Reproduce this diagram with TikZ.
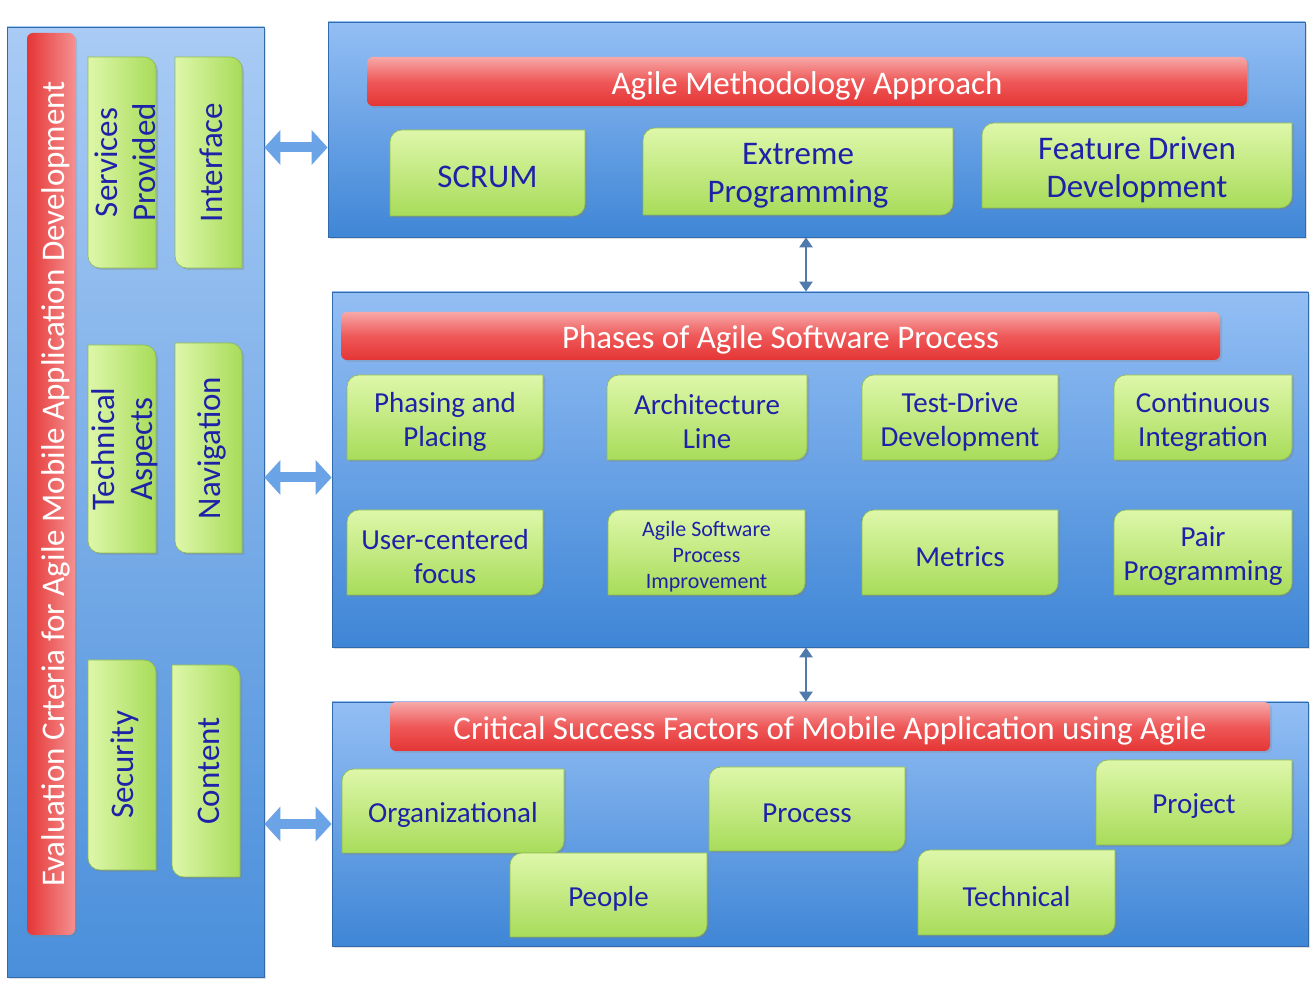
\documentclass[tikz,border=0pt]{standalone}
\usepackage{fontspec}
\setmainfont{Carlito}
\usepackage{tikz}
\usetikzlibrary{arrows.meta, shadows}

\definecolor{txtblue}{HTML}{1E22A8}
\definecolor{pantop}{HTML}{93BEF4}
\definecolor{panbot}{HTML}{3F86D6}
\definecolor{lefttop}{HTML}{A9CBF5}
\definecolor{leftbot}{HTML}{4A8FDB}
\definecolor{redtop}{HTML}{F7A8A8}
\definecolor{redmid}{HTML}{EF5858}
\definecolor{redbot}{HTML}{E53535}
\definecolor{grtop}{HTML}{DEF7AA}
\definecolor{grbot}{HTML}{A8DC5A}
\definecolor{arrowblue}{HTML}{6AA3E6}

% green box, round top left / bottom right
\newcommand{\gbox}[7][]{%
  \path[gfill] (#3,#4) -- (#3,#6-12) arc[start angle=180, end angle=90, radius=6pt]
    -- (#5,#6) -- (#5,#4+12) arc[start angle=0, end angle=-90, radius=6pt] -- cycle;
  \node[gtext, #1] (#2) at ({(#3+#5)/2},{(#4+#6)/2-4}) {#7};}
% upright green box, round top right / bottom left
\newcommand{\vgbox}[6]{%
  \path[gfill, left color=grtop, right color=grbot] (#2,#3+12) -- (#2,#5) -- (#4-12,#5)
    arc[start angle=90, end angle=0, radius=6pt] -- (#4,#3) -- (#2+12,#3)
    arc[start angle=-90, end angle=-180, radius=6pt] -- cycle;
  \node[gtext, rotate=90] (#1) at ({(#2+#4)/2+3},{(#3+#5)/2}) {#6};}

\begin{document}
\begin{tikzpicture}[x=0.5pt,y=0.5pt,
    panel/.style={rectangle, draw=panbot!80!black, line width=0.4pt, top color=pantop, bottom color=panbot,
      drop shadow={opacity=0.25, shadow xshift=1pt, shadow yshift=-1pt}},
    redbar/.style={rectangle, rounded corners=3pt, top color=redtop, bottom color=redbot, middle color=redmid,
      text=white, font=\fontsize{16.5}{19}\selectfont, inner sep=0pt, text height=14pt, text depth=1pt,
      drop shadow={opacity=0.25, shadow xshift=1pt, shadow yshift=-1pt}},
    gfill/.style={top color=grtop, bottom color=grbot, draw=grbot!85!black, line width=0.3pt,
      drop shadow={opacity=0.3, shadow xshift=1pt, shadow yshift=-1pt}},
    gtext/.style={align=center, text=txtblue, font=\fontsize{16.5}{19}\selectfont, inner sep=0pt},
    phasefont/.style={font=\fontsize{14.5}{17}\selectfont},
    tinyfont/.style={font=\fontsize{11}{13}\selectfont},
    fatarrow/.style={draw=arrowblue, line width=5pt,
      {Triangle[width=17pt,length=8pt]}-{Triangle[width=17pt,length=8pt]}},
    slimarrow/.style={draw=arrowblue!75!black, line width=1.3pt,
      {Triangle[width=6.5pt,length=5pt]}-{Triangle[width=6.5pt,length=5pt]}}]
    \useasboundingbox[fill=white] (0,0) rectangle (1310,984);

    % panels
    \node[panel, top color=lefttop, bottom color=leftbot, minimum width=128.5pt, minimum height=475pt] (left) at (135.5,482) {};
    \node[panel, minimum width=488.5pt, minimum height=107.5pt] (meth) at (816.5,854.5) {};
    \node[panel, minimum width=488pt, minimum height=177.5pt] (phase) at (820,514.5) {};
    \node[panel, minimum width=488pt, minimum height=122pt] (csf) at (820,160) {};

    % red titles
    \node[redbar, rotate=90, left color=redbot, right color=redtop!70!redmid, minimum width=451pt, minimum height=24pt]
      (eval) at (51,500) {Evaluation Crteria for Agile Mobile Application Development};
    \node[redbar, minimum width=440pt, minimum height=24.5pt] (methtitle) at (807,902.5) {Agile Methodology Approach};
    \node[redbar, minimum width=439.5pt, minimum height=24pt] (phasetitle) at (780.5,648) {Phases of Agile Software Process};
    \node[redbar, minimum width=440pt, minimum height=24.5pt] (csftitle) at (830,257.5)
      {Critical Success Factors of Mobile Application using Agile};

    % evaluation criteria
    \vgbox{svc}{88}{716}{156}{927}{Services\\Provided}
    \vgbox{intf}{175}{716}{242}{927}{Interface}
    \vgbox{tech}{88}{431}{156}{639}{Technical\\Aspects}
    \vgbox{nav}{175}{431}{242}{641}{Navigation}
    \vgbox{sec}{88}{114}{156}{324}{Security}
    \vgbox{cont}{172}{107}{240}{319}{Content}

    % methodologies
    \gbox{scrum}{390}{768}{585}{854}{SCRUM}
    \gbox{xp}{643}{769}{953}{856}{Extreme\\Programming}
    \gbox{fdd}{982}{776}{1292}{861}{Feature Driven\\Development}

    % phases
    \gbox[phasefont]{pp}{347}{524}{543}{609}{Phasing and\\Placing}
    \gbox[phasefont]{al}{607}{524}{807}{609}{Architecture\\Line}
    \gbox[phasefont]{tdd}{862}{524}{1058}{609}{Test-Drive\\Development}
    \gbox[phasefont]{ci}{1114}{524}{1292}{609}{Continuous\\Integration}
    \gbox[phasefont]{ucf}{347}{389}{543}{474}{User-centered\\focus}
    \gbox[tinyfont]{aspi}{608}{389}{805}{474}{Agile Software\\Process\\Improvement}
    \gbox[phasefont]{met}{862}{389}{1058}{474}{Metrics}
    \gbox[phasefont]{pair}{1114}{389}{1292}{474}{Pair\\Programming}

    % success factors
    \gbox[phasefont]{org}{342}{131}{564}{215}{Organizational}
    \gbox[phasefont]{proc}{709}{133}{905}{217}{Process}
    \gbox[phasefont]{proj}{1096}{139}{1292}{224}{Project}
    \gbox[phasefont]{ppl}{510}{47}{707}{131}{People}
    \gbox[phasefont]{techn}{918}{49}{1115}{134}{Technical}

    % arrows
    \foreach \p/\s in {meth/-9pt, phase/-4pt, csf/0pt}{
      \coordinate (h) at ([yshift=\s]\p.west);
      \draw[fatarrow] (h -| left.east) -- (h);}
    \foreach \a/\b/\s in {meth/phase/-5.25pt, phase/csf/-7pt}{
      \coordinate (v) at ([xshift=\s]\a.south);
      \draw[slimarrow] (v) -- (v |- \b.north);}
\end{tikzpicture}
\end{document}
